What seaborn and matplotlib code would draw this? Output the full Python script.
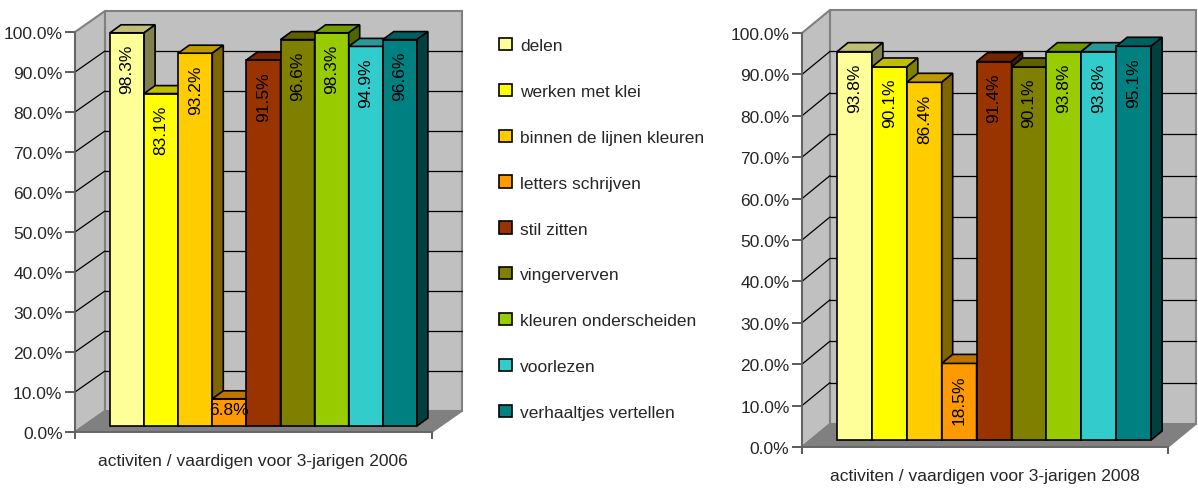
import matplotlib
matplotlib.use("Agg")
import matplotlib.pyplot as plt
from matplotlib.patches import Polygon, Rectangle
from matplotlib import font_manager as fm
import matplotlib.colors as mcolors
import seaborn as sns
import pandas as pd

# ---------------- data ----------------
categories = ['delen', 'werken met klei', 'binnen de lijnen kleuren', 'letters schrijven',
              'stil zitten', 'vingerverven', 'kleuren onderscheiden', 'voorlezen',
              'verhaaltjes vertellen']
values_2006 = [98.3, 83.1, 93.2, 6.8, 91.5, 96.6, 98.3, 94.9, 96.6]
values_2008 = [93.8, 90.1, 86.4, 18.5, 91.4, 90.1, 93.8, 93.8, 95.1]
colors = ['#FFFF99', '#FFFF00', '#FFCC00', '#FF9900', '#993300',
          '#808000', '#99CC00', '#33CCCC', '#008080']
ytick_values = [0, 10, 20, 30, 40, 50, 60, 70, 80, 90, 100]
ytick_labels = ['0.0%', '10.0%', '20.0%', '30.0%', '40.0%', '50.0%',
                '60.0%', '70.0%', '80.0%', '90.0%', '100.0%']
title_2006 = 'activiten / vaardigen voor 3-jarigen 2006'
title_2008 = 'activiten / vaardigen voor 3-jarigen 2008'

# ---------------- style ----------------
sns.set_style('white')
names = {f.name for f in fm.fontManager.ttflist}
if 'Liberation Sans Narrow' in names:
    FONT = ['Liberation Sans Narrow', 'DejaVu Sans']
    FS = 14
else:
    FONT = ['Liberation Sans', 'DejaVu Sans']
    FS = 12.5
plt.rcParams['font.family'] = FONT

W, H = 1198, 489
fig = plt.figure(figsize=(W / 100, H / 100), dpi=100)

WALL = '#C0C0C0'
FLOOR = '#808080'
BORDER = '#808080'


def panel(values, geo, title, title_xy):
    x0, y0, xs, ys = geo['x0'], geo['y0'], geo['xs'], geo['ys']
    wdx, wdy = geo['wall'][0] / xs, geo['wall'][1] / ys
    ox, oy = geo['plane'][0] / xs, geo['plane'][1] / ys
    bx, by = geo['top'][0] / xs, geo['top'][1] / ys
    xmin = -0.5 - geo['lead'] / xs
    xr = xmin + geo['front_w'] / xs
    wpx = geo['front_w'] + geo['wall'][0] + 4
    hpx = 100 * ys + geo['wall'][1] + 4
    ax = fig.add_axes([x0 / W, (H - y0) / H, wpx / W, hpx / H])
    ax.patch.set_alpha(0)

    df = pd.DataFrame({'cat': categories, 'val': values})
    sns.barplot(data=df, x='cat', y='val', hue='cat', order=categories,
                hue_order=categories, palette=colors, width=1.0, dodge=False,
                edgecolor='black', linewidth=1.2, legend=False, ax=ax,
                saturation=1)
    bars = sorted(list(ax.patches), key=lambda p: p.get_x())

    # walls and floor
    ax.add_patch(Polygon([(xmin, 0), (xmin, 100), (xmin + wdx, 100 + wdy), (xmin + wdx, wdy)],
                         closed=True, fc=WALL, ec=BORDER, lw=1.5, zorder=1, clip_on=False))
    ax.add_patch(Polygon([(xmin + wdx, wdy), (xmin + wdx, 100 + wdy), (xr + wdx, 100 + wdy),
                          (xr + wdx, wdy)],
                         closed=True, fc=WALL, ec=BORDER, lw=1.5, zorder=1, clip_on=False))
    for v in ytick_values[1:-1]:
        ax.plot([xmin, xmin + wdx], [v, v + wdy], color='black', lw=0.9, zorder=2, clip_on=False)
        ax.plot([xmin + wdx, xr + wdx], [v + wdy, v + wdy], color='black', lw=0.9, zorder=2,
                clip_on=False)
    ax.add_patch(Polygon([(xmin, 0), (xr, 0), (xr + wdx, wdy), (xmin + wdx, wdy)],
                         closed=True, fc=FLOOR, ec=BORDER, lw=1.2, zorder=3, clip_on=False))

    for i, (p, v) in enumerate(zip(bars, values)):
        l = p.get_x() + ox
        w = p.get_width()
        h = p.get_height()
        r = l + w
        p.set_x(l)
        p.set_y(oy)
        p.set_zorder(10 + 3 * i)
        p.set_clip_on(False)
        rgb = mcolors.to_rgb(p.get_facecolor())
        top = tuple(c * 0.75 for c in rgb)
        side = tuple(c * 0.5 for c in rgb)
        ax.add_patch(Polygon([(l, oy + h), (r, oy + h), (r + bx, oy + h + by), (l + bx, oy + h + by)],
                             closed=True, fc=top, ec='black', lw=1.2, zorder=11 + 3 * i, clip_on=False))
        ax.add_patch(Polygon([(r, oy), (r + bx, oy + by), (r + bx, oy + h + by), (r, oy + h)],
                             closed=True, fc=side, ec='black', lw=1.2, zorder=11 + 3 * i, clip_on=False))
        cx = l + w / 2
        if h >= 10:
            ax.text(cx, oy + h - 11 / ys, f'{v:.1f}%', rotation=90, ha='center', va='top',
                    fontsize=FS, color='black', zorder=60)
        else:
            ax.text(cx, oy + h - 11 / ys, f'{v:.1f}%', ha='center', va='center',
                    fontsize=FS, color='black', zorder=60)

    ax.set_xlim(xmin, xmin + wpx / xs)
    ax.set_ylim(0, hpx / ys)
    for s in ['top', 'right']:
        ax.spines[s].set_visible(False)
    ax.spines['left'].set_bounds(0, 100)
    ax.spines['bottom'].set_bounds(xmin, xr)
    for s in ['left', 'bottom']:
        ax.spines[s].set_color('#606060')
        ax.spines[s].set_linewidth(1.2)
        ax.spines[s].set_zorder(5)
    ax.set_yticks(ytick_values)
    ax.set_yticklabels(ytick_labels, fontsize=FS)
    ax.set_xticks([xmin, xr])
    ax.set_xticklabels(['', ''])
    ax.tick_params(axis='y', length=7, width=1.2, color='#404040', pad=2, left=True)
    ax.tick_params(axis='x', length=5, width=1.2, color='#404040', bottom=True)
    ax.set_xlabel('')
    ax.set_ylabel('')
    ax.grid(False)
    fig.text(title_xy[0] / W, 1 - title_xy[1] / H, title, ha='center', va='center', fontsize=FS)
    return ax


geo_left = dict(x0=75, y0=433, xs=34.1, ys=4.0, lead=26.4, front_w=357,
                wall=(30, 21), plane=(8.6, 6), top=(11, 8))
geo_right = dict(x0=802, y0=448, xs=34.9, ys=4.14, lead=26.5, front_w=366,
                 wall=(28, 23), plane=(8.5, 7), top=(11, 9))

panel(values_2006, geo_left, title_2006, (253, 462))
panel(values_2008, geo_right, title_2008, (985, 477))

handles = [Rectangle((0, 0), 1, 1, fc=c, ec='black', lw=1.2) for c in colors]
fig.legend(handles, categories, loc='upper left', bbox_to_anchor=(499 / W, 1 - 39 / H),
           frameon=False, fontsize=FS, handlelength=0.72, handleheight=0.72,
           labelspacing=1.76, handletextpad=0.5, borderpad=0, borderaxespad=0)

fig.savefig('out.png', dpi=100, facecolor='white')
